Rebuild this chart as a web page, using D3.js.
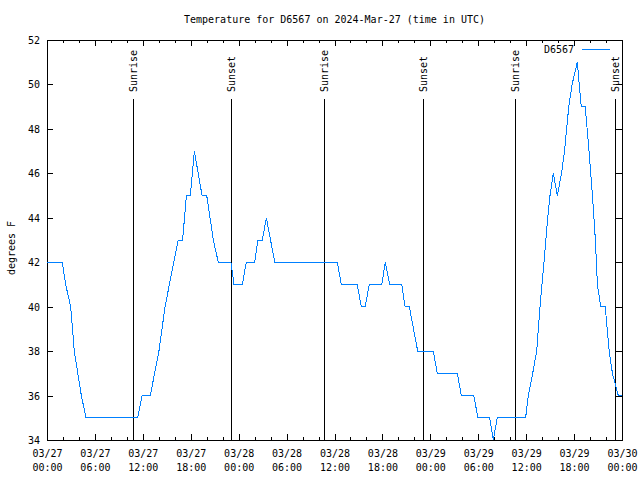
<!DOCTYPE html>
<html>
<head>
<meta charset="utf-8">
<script src="https://cdn.jsdelivr.net/npm/d3@7"></script>
<style>
  html, body { margin: 0; padding: 0; background: #fff; }
  svg { display: block; }
  text { font-family: "DejaVu Sans Mono", "Liberation Mono", monospace; font-size: 10px; fill: #000; }
</style>
</head>
<body>
<svg id="chart" width="640" height="480"></svg>
<script>
// ---- data ----
const titleText = "Temperature for D6567 on 2024-Mar-27 (time in UTC)";
const seriesName = "D6567";
const yLabel = "degrees F";

const times = [
  "2024-03-27T00:00", "2024-03-27T01:55", "2024-03-27T02:20", "2024-03-27T02:58", "2024-03-27T03:25",
  "2024-03-27T04:18", "2024-03-27T04:53", "2024-03-27T11:21", "2024-03-27T11:54", "2024-03-27T12:56",
  "2024-03-27T14:01", "2024-03-27T14:47", "2024-03-27T15:52", "2024-03-27T16:26", "2024-03-27T16:59",
  "2024-03-27T17:27", "2024-03-27T17:57", "2024-03-27T18:27", "2024-03-27T19:25", "2024-03-27T20:00",
  "2024-03-27T20:25", "2024-03-27T20:49", "2024-03-27T21:27", "2024-03-27T23:02", "2024-03-27T23:25",
  "2024-03-28T00:28", "2024-03-28T00:57", "2024-03-28T02:00", "2024-03-28T02:25", "2024-03-28T02:58",
  "2024-03-28T03:28", "2024-03-28T04:31", "2024-03-28T12:21", "2024-03-28T12:51", "2024-03-28T14:51",
  "2024-03-28T15:21", "2024-03-28T15:51", "2024-03-28T16:21", "2024-03-28T17:55", "2024-03-28T18:22",
  "2024-03-28T18:55", "2024-03-28T20:25", "2024-03-28T20:50", "2024-03-28T21:22", "2024-03-28T22:25",
  "2024-03-29T00:22", "2024-03-29T00:52", "2024-03-29T03:23", "2024-03-29T03:53", "2024-03-29T05:26",
  "2024-03-29T05:58", "2024-03-29T07:26", "2024-03-29T07:53", "2024-03-29T08:23", "2024-03-29T11:56",
  "2024-03-29T12:16", "2024-03-29T12:49", "2024-03-29T13:19", "2024-03-29T13:44", "2024-03-29T14:14",
  "2024-03-29T14:42", "2024-03-29T14:59", "2024-03-29T15:24", "2024-03-29T15:54", "2024-03-29T16:26",
  "2024-03-29T16:48", "2024-03-29T17:20", "2024-03-29T17:45", "2024-03-29T18:24", "2024-03-29T18:54",
  "2024-03-29T19:24", "2024-03-29T19:52", "2024-03-29T20:18", "2024-03-29T20:40", "2024-03-29T20:55",
  "2024-03-29T21:20", "2024-03-29T21:54", "2024-03-29T22:24", "2024-03-29T22:48", "2024-03-29T23:32",
  "2024-03-30T00:00"
];
const temps = [
  42, 42, 41, 40, 38,
  36, 35, 35, 36, 36,
  38, 40, 42, 43, 43,
  45, 45, 47, 45, 45,
  44, 43, 42, 42, 41,
  41, 42, 42, 43, 43,
  44, 42, 42, 41, 41,
  40, 40, 41, 41, 42,
  41, 41, 40, 40, 38,
  38, 37, 37, 36, 36,
  35, 35, 34, 35, 35,
  36, 37, 38, 40, 42,
  44, 45, 46, 45, 46,
  47, 49, 50, 51, 49,
  49, 47, 45, 43, 41,
  40, 40, 38, 37, 36,
  36
];

const eventTimes = [
  "2024-03-27T10:44", "2024-03-27T23:02", "2024-03-28T10:40",
  "2024-03-28T23:03", "2024-03-29T10:38", "2024-03-29T23:04"
];
const eventLabels = ["Sunrise", "Sunset", "Sunrise", "Sunset", "Sunrise", "Sunset"];

const xDomain = ["2024-03-27T00:00", "2024-03-30T00:00"];
const yDomain = [34, 52];
const yTicks = [34, 36, 38, 40, 42, 44, 46, 48, 50, 52];

// ---- drawing ----
const parseT = d3.utcParse("%Y-%m-%dT%H:%M");
const svg = d3.select("#chart");
const L = 47, R = 622, T = 40, B = 440;

const x = d3.scaleUtc().domain(xDomain.map(parseT)).range([L, R]);
const y = d3.scaleLinear().domain(yDomain).range([B, T]);

const data = times.map((t, i) => ({ t: parseT(t), v: temps[i] }));

// title
svg.append("text")
  .attr("x", (L + R) / 2).attr("y", 23)
  .attr("text-anchor", "middle")
  .text(titleText);

// y label
svg.append("text")
  .attr("transform", `translate(15,248) rotate(-90)`)
  .attr("text-anchor", "middle")
  .text(yLabel);

const fmtDay = d3.utcFormat("%m/%d");
const fmtHr = d3.utcFormat("%H:%M");
const majorX = d3.utcHour.every(6).range(x.domain()[0], d3.utcHour.offset(x.domain()[1], 1));
const minorX = d3.utcHour.every(2).range(x.domain()[0], d3.utcHour.offset(x.domain()[1], 1));

// minor x ticks bottom & top
const minorBottom = d3.axisBottom(x).tickValues(minorX).tickSize(-3).tickFormat("");
const minorTop = d3.axisTop(x).tickValues(minorX).tickSize(-3).tickFormat("");
svg.append("g").attr("class", "ax").attr("transform", `translate(0,${B})`).call(minorBottom);
svg.append("g").attr("class", "ax").attr("transform", `translate(0,${T})`).call(minorTop);

// major x ticks bottom with two-line labels
const xAxis = d3.axisBottom(x).tickValues(majorX).tickSize(-6).tickPadding(0).tickFormat("");
const gx = svg.append("g").attr("class", "ax").attr("transform", `translate(0,${B})`).call(xAxis);
gx.selectAll(".tick").each(function (d) {
  const t = d3.select(this).append("text").attr("text-anchor", "middle");
  t.append("tspan").attr("x", 0).attr("y", 17).text(fmtDay(d));
  t.append("tspan").attr("x", 0).attr("y", 31).text(fmtHr(d));
});
svg.append("g").attr("class", "ax").attr("transform", `translate(0,${T})`)
  .call(d3.axisTop(x).tickValues(majorX).tickSize(-6).tickFormat(""));

// y axis left and right
const yAxis = d3.axisLeft(y).tickValues(yTicks).tickSize(-6).tickPadding(7).tickFormat(d3.format("d"));
const gy = svg.append("g").attr("class", "ax").attr("transform", `translate(${L},0)`).call(yAxis);
gy.selectAll("text").attr("dy", "0.35em").attr("x", -7);
svg.append("g").attr("class", "ax").attr("transform", `translate(${R},0)`)
  .call(d3.axisRight(y).tickValues(yTicks).tickSize(-6).tickFormat(""));

svg.selectAll(".ax .domain").remove();
svg.selectAll(".ax line").attr("stroke", "#000").attr("shape-rendering", "crispEdges");
svg.selectAll(".ax text").attr("fill", "#000").style("font-family", null).style("font-size", null)
  .attr("font-family", null).attr("font-size", null);

// border
svg.append("rect")
  .attr("x", L + 0.5).attr("y", T + 0.5)
  .attr("width", R - L).attr("height", B - T)
  .attr("fill", "none").attr("stroke", "#000").attr("stroke-width", 1)
  .attr("shape-rendering", "crispEdges");

// sunrise / sunset lines
const ev = svg.append("g");
eventTimes.forEach((t, i) => {
  const xp = Math.round(x(parseT(t))) + 0.5;
  ev.append("line")
    .attr("x1", xp).attr("x2", xp).attr("y1", 99).attr("y2", B)
    .attr("stroke", "#000").attr("stroke-width", 1).attr("shape-rendering", "crispEdges");
  ev.append("text")
    .attr("transform", `translate(${xp},92) rotate(-90)`)
    .attr("dy", "0.35em")
    .attr("text-anchor", "start")
    .text(eventLabels[i]);
});

// data line
const line = d3.line().x(d => x(d.t)).y(d => y(d.v));
svg.append("path")
  .datum(data)
  .attr("d", line)
  .attr("fill", "none")
  .attr("stroke", "#0080ff")
  .attr("stroke-width", 1)
  .attr("shape-rendering", "crispEdges");

// legend
svg.append("text")
  .attr("x", 574).attr("y", 53)
  .attr("text-anchor", "end")
  .text(seriesName);
svg.append("line")
  .attr("x1", 582).attr("x2", 610).attr("y1", 49.5).attr("y2", 49.5)
  .attr("stroke", "#0080ff").attr("stroke-width", 1)
  .attr("shape-rendering", "crispEdges");
</script>
</body>
</html>
